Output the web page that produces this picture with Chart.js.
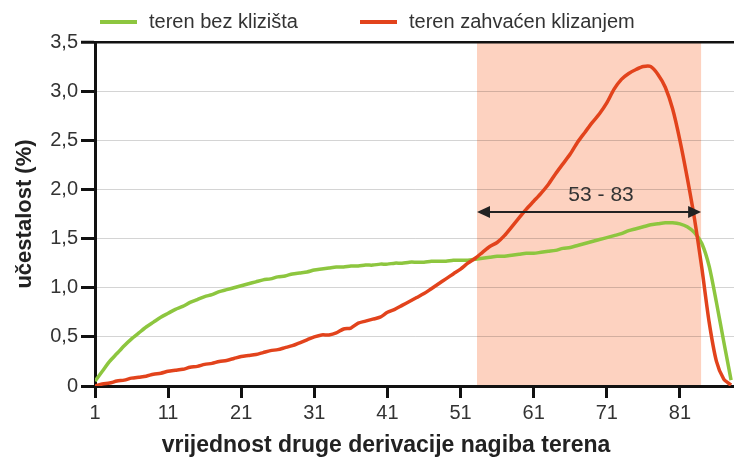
<!DOCTYPE html>
<html>
<head>
<meta charset="utf-8">
<script src="https://cdn.jsdelivr.net/npm/chart.js@4/dist/chart.umd.min.js"></script>
<style>
  html, body { margin: 0; padding: 0; background: #fff; }
</style>
</head>
<body>
<canvas id="myChart" width="734" height="461"></canvas>
<script>
// classes of the second derivative of slope
var slopeClasses = [
  1, 2, 3, 4, 5, 6, 7, 8, 9, 10,
  11, 12, 13, 14, 15, 16, 17, 18, 19, 20,
  21, 22, 23, 24, 25, 26, 27, 28, 29, 30,
  31, 32, 33, 34, 35, 36, 37, 38, 39, 40,
  41, 42, 43, 44, 45, 46, 47, 48, 49, 50,
  51, 52, 53, 54, 55, 56, 57, 58, 59, 60,
  61, 62, 63, 64, 65, 66, 67, 68, 69, 70,
  71, 72, 73, 74, 75, 76, 77, 78, 79, 80,
  81, 82, 83, 84, 85, 86, 87, 88
];

// terrain without landslides (%)
var stableTerrain = [
  0.05, 0.15, 0.25, 0.33, 0.41, 0.48, 0.54, 0.60, 0.65, 0.70,
  0.74, 0.78, 0.81, 0.85, 0.88, 0.91, 0.93, 0.96, 0.98, 1.00,
  1.02, 1.04, 1.06, 1.08, 1.09, 1.11, 1.12, 1.14, 1.15, 1.16,
  1.18, 1.19, 1.20, 1.21, 1.21, 1.22, 1.22, 1.23, 1.23, 1.24,
  1.24, 1.25, 1.25, 1.26, 1.26, 1.26, 1.27, 1.27, 1.27, 1.28,
  1.28, 1.28, 1.29, 1.30, 1.31, 1.32, 1.32, 1.33, 1.34, 1.35,
  1.35, 1.36, 1.37, 1.38, 1.40, 1.41, 1.43, 1.45, 1.47, 1.49,
  1.51, 1.53, 1.55, 1.58, 1.60, 1.62, 1.64, 1.65, 1.66, 1.66,
  1.65, 1.62, 1.56, 1.45, 1.22, 0.85, 0.45, 0.06
];

// terrain affected by landslides (%)
var landslideTerrain = [
  0.00, 0.02, 0.03, 0.05, 0.06, 0.08, 0.09, 0.10, 0.12, 0.13,
  0.15, 0.16, 0.17, 0.19, 0.20, 0.22, 0.23, 0.25, 0.26, 0.28,
  0.30, 0.31, 0.32, 0.34, 0.36, 0.37, 0.39, 0.41, 0.44, 0.47,
  0.50, 0.52, 0.52, 0.54, 0.58, 0.59, 0.64, 0.66, 0.68, 0.70,
  0.75, 0.78, 0.82, 0.86, 0.90, 0.94, 0.99, 1.04, 1.09, 1.14,
  1.19, 1.25, 1.30, 1.36, 1.42, 1.46, 1.53, 1.62, 1.71, 1.80,
  1.88, 1.96, 2.05, 2.16, 2.26, 2.36, 2.48, 2.58, 2.68, 2.77,
  2.88, 3.02, 3.12, 3.18, 3.22, 3.25, 3.25, 3.17, 3.04, 2.82,
  2.50, 2.12, 1.70, 1.20, 0.65, 0.25, 0.07, 0.01
];

var xTickValues = [1, 11, 21, 31, 41, 51, 61, 71, 81];
var rangeLabel = '53 - 83';
var bandRange = [53.25, 83.9];
var arrowLevel = 1.77;
var xTitle = 'vrijednost druge derivacije nagiba terena';

function toPoints(ys) {
  return ys.map(function (v, i) { return { x: slopeClasses[i], y: v }; });
}

var FONT = '"Liberation Sans", Arial, sans-serif';

// shaded interval behind the grid
var bandPlugin = {
  id: 'band',
  beforeDraw: function (chart) {
    var c = chart.ctx, a = chart.chartArea, x = chart.scales.x;
    var x0 = x.getPixelForValue(bandRange[0]);
    var x1 = x.getPixelForValue(bandRange[1]);
    c.save();
    c.fillStyle = '#fdd2c0';
    c.fillRect(x0, a.top, x1 - x0, a.bottom - a.top);
    c.restore();
  }
};

// double arrow with the interval label
var arrowPlugin = {
  id: 'rangeArrow',
  afterDatasetsDraw: function (chart) {
    var c = chart.ctx, x = chart.scales.x, y = chart.scales.y;
    var x0 = x.getPixelForValue(bandRange[0]);
    var x1 = x.getPixelForValue(bandRange[1]);
    var py = y.getPixelForValue(arrowLevel);
    c.save();
    c.strokeStyle = '#222';
    c.fillStyle = '#222';
    c.lineWidth = 2;
    c.beginPath();
    c.moveTo(x0 + 8, py);
    c.lineTo(x1 - 8, py);
    c.stroke();
    c.beginPath();
    c.moveTo(x0, py); c.lineTo(x0 + 13, py - 6); c.lineTo(x0 + 13, py + 6); c.closePath();
    c.fill();
    c.beginPath();
    c.moveTo(x1, py); c.lineTo(x1 - 13, py - 6); c.lineTo(x1 - 13, py + 6); c.closePath();
    c.fill();
    c.font = '21px ' + FONT;
    c.textAlign = 'center';
    c.textBaseline = 'middle';
    c.fillStyle = '#333';
    c.fillText(rangeLabel, (x0 + x1) / 2 + 12, py - 17);
    c.restore();
  }
};

// legend along the top edge and the x axis title
var legendPlugin = {
  id: 'topLegend',
  afterDraw: function (chart) {
    var c = chart.ctx;
    var starts = [100, 360];
    c.save();
    c.font = '20px ' + FONT;
    c.textBaseline = 'middle';
    c.textAlign = 'left';
    chart.data.datasets.forEach(function (ds, i) {
      var sx = starts[i], sy = 22;
      c.strokeStyle = ds.borderColor;
      c.lineWidth = 4;
      c.beginPath();
      c.moveTo(sx, sy);
      c.lineTo(sx + 37, sy);
      c.stroke();
      c.fillStyle = '#333';
      c.fillText(ds.label, sx + 49, sy);
    });
    c.font = 'bold 23px ' + FONT;
    c.textAlign = 'center';
    c.fillStyle = '#222';
    c.fillText(xTitle, 386, 446);
    c.restore();
  }
};

var ctx = document.getElementById('myChart').getContext('2d');
var chart = new Chart(ctx, {
  type: 'line',
  data: {
    datasets: [{
      label: 'teren bez klizišta',
      borderColor: '#8dc63f',
      borderWidth: 3.5,
      data: toPoints(stableTerrain),
      order: 1
    },
    {
      label: 'teren zahvaćen klizanjem',
      borderColor: '#e2431c',
      borderWidth: 3.5,
      data: toPoints(landslideTerrain),
      order: 0
    }]
  },
  options: {
    responsive: false,
    animation: false,
    layout: { padding: { top: 42, left: 0, right: 0, bottom: 0 } },
    elements: {
      point: { radius: 0 },
      line: { tension: 0.25, fill: false }
    },
    plugins: {
      legend: { display: false },
      tooltip: { enabled: false }
    },
    scales: {
      x: {
        type: 'linear',
        min: 1,
        max: 88.4,
        afterBuildTicks: function (scale) {
          scale.ticks = xTickValues.map(function (v) { return { value: v }; });
        },
        afterFit: function (scale) { scale.height = 75; },
        border: { color: '#111', width: 3 },
        grid: {
          drawOnChartArea: false,
          tickLength: 12,
          tickColor: '#111',
          tickWidth: 3
        },
        ticks: {
          color: '#333',
          font: { family: FONT, size: 20 },
          padding: 3,
          maxRotation: 0
        }
      },
      y: {
        min: 0,
        max: 3.5,
        afterFit: function (scale) { scale.width = 95; },
        border: { color: '#111', width: 3 },
        grid: {
          color: function (c) {
            if (c.tick.value === 3.5) return '#111';
            if (c.tick.value === 0) return 'rgba(0,0,0,0)';
            return 'rgba(0,0,0,0.17)';
          },
          lineWidth: function (c) { return c.tick.value === 3.5 ? 2.5 : 1; },
          tickLength: 14,
          tickColor: '#111',
          tickWidth: 3
        },
        ticks: {
          stepSize: 0.5,
          color: '#333',
          font: { family: FONT, size: 20 },
          padding: 3,
          callback: function (v) { return v === 0 ? '0' : v.toFixed(1).replace('.', ','); }
        },
        title: {
          display: true,
          text: 'učestalost (%)',
          color: '#222',
          font: { family: FONT, size: 22, weight: 'bold' },
          padding: { top: 12, bottom: 0 }
        }
      }
    }
  },
  plugins: [bandPlugin, arrowPlugin, legendPlugin]
});
</script>
</body>
</html>
